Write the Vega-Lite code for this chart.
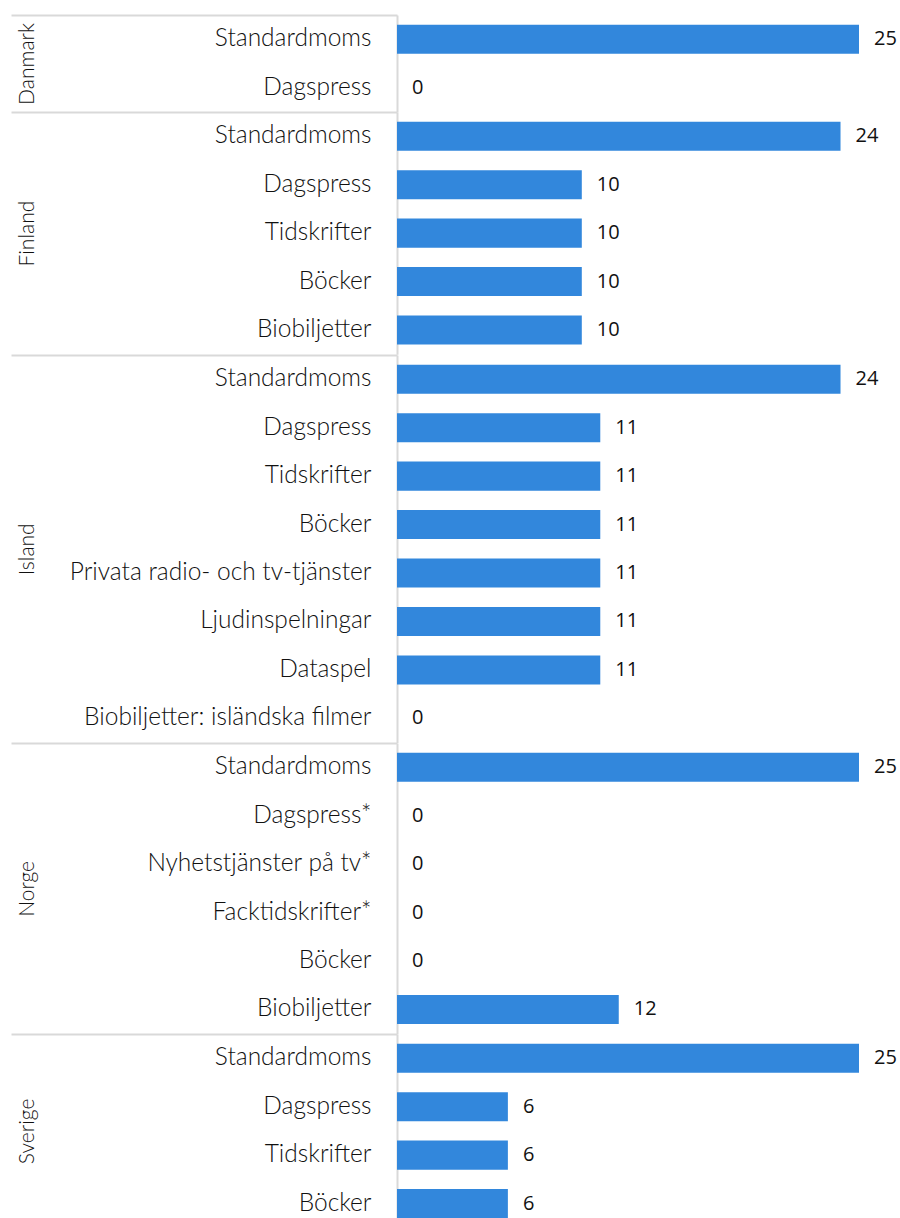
{
  "$schema": "https://vega.github.io/schema/vega-lite/v6.json",
  "padding": {"left": 10, "top": 14, "right": 0, "bottom": 0},
  "datasets": {
    "moms": [
      {"land": "Danmark", "kategori": "Standardmoms", "moms": 25},
      {"land": "Danmark", "kategori": "Dagspress", "moms": 0},
      {"land": "Finland", "kategori": "Standardmoms", "moms": 24},
      {"land": "Finland", "kategori": "Dagspress", "moms": 10},
      {"land": "Finland", "kategori": "Tidskrifter", "moms": 10},
      {"land": "Finland", "kategori": "Böcker", "moms": 10},
      {"land": "Finland", "kategori": "Biobiljetter", "moms": 10},
      {"land": "Island", "kategori": "Standardmoms", "moms": 24},
      {"land": "Island", "kategori": "Dagspress", "moms": 11},
      {"land": "Island", "kategori": "Tidskrifter", "moms": 11},
      {"land": "Island", "kategori": "Böcker", "moms": 11},
      {"land": "Island", "kategori": "Privata radio- och tv-tjänster", "moms": 11},
      {"land": "Island", "kategori": "Ljudinspelningar", "moms": 11},
      {"land": "Island", "kategori": "Dataspel", "moms": 11},
      {"land": "Island", "kategori": "Biobiljetter: isländska filmer", "moms": 0},
      {"land": "Norge", "kategori": "Standardmoms", "moms": 25},
      {"land": "Norge", "kategori": "Dagspress*", "moms": 0},
      {"land": "Norge", "kategori": "Nyhetstjänster på tv*", "moms": 0},
      {"land": "Norge", "kategori": "Facktidskrifter*", "moms": 0},
      {"land": "Norge", "kategori": "Böcker", "moms": 0},
      {"land": "Norge", "kategori": "Biobiljetter", "moms": 12},
      {"land": "Sverige", "kategori": "Standardmoms", "moms": 25},
      {"land": "Sverige", "kategori": "Dagspress", "moms": 6},
      {"land": "Sverige", "kategori": "Tidskrifter", "moms": 6},
      {"land": "Sverige", "kategori": "Böcker", "moms": 6}
    ]
  },
  "data": {"name": "moms"},
  "spacing": 0,
  "bounds": "flush",
  "config": {
    "view": {"stroke": null},
    "concat": {"spacing": 0},
    "axisY": {
      "domainColor": "#d9d9d9",
      "domainWidth": 2,
      "tickSize": 386,
      "tickColor": "#d9d9d9",
      "tickWidth": 2,
      "bandPosition": 0,
      "labelPadding": -360,
      "labelFont": "Lato",
      "labelFontWeight": 300,
      "labelFontSize": 24.5,
      "labelColor": "#111111",
      "labelLimit": 0,
      "titleFont": "Lato",
      "titleFontSize": 21,
      "titleFontWeight": 300,
      "titleColor": "#111111",
      "titleX": -370,
      "titleBaseline": "middle",
      "titleLimit": 0
    }
  },
  "vconcat": [
    {
      "transform": [{"filter": "datum.land === 'Danmark'"}],
      "width": 462,
      "height": {"step": 48.45},
      "encoding": {
        "y": {"field": "kategori", "type": "nominal", "sort": null, "scale": {"paddingInner": 0, "paddingOuter": 0},
          "axis": {"title": "Danmark", "tickOpacity": {"condition": {"test": "datum.value === 'Standardmoms'", "value": 1}, "value": 0}}},
        "x": {"field": "moms", "type": "quantitative", "scale": {"domain": [0, 25]}, "axis": null}
      },
      "layer": [
        {"mark": {"type": "bar", "height": {"band": 0.6}, "color": "#3287dc"}},
        {"mark": {"type": "text", "align": "left", "dx": 15, "font": "Open Sans", "fontSize": 20, "color": "#111111"}, "encoding": {"text": {"field": "moms", "type": "quantitative"}}}
      ]
    },
    {
      "transform": [{"filter": "datum.land === 'Finland'"}],
      "width": 462,
      "height": {"step": 48.45},
      "encoding": {
        "y": {"field": "kategori", "type": "nominal", "sort": null, "scale": {"paddingInner": 0, "paddingOuter": 0},
          "axis": {"title": "Finland", "tickOpacity": {"condition": {"test": "datum.value === 'Standardmoms'", "value": 1}, "value": 0}}},
        "x": {"field": "moms", "type": "quantitative", "scale": {"domain": [0, 25]}, "axis": null}
      },
      "layer": [
        {"mark": {"type": "bar", "height": {"band": 0.6}, "color": "#3287dc"}},
        {"mark": {"type": "text", "align": "left", "dx": 15, "font": "Open Sans", "fontSize": 20, "color": "#111111"}, "encoding": {"text": {"field": "moms", "type": "quantitative"}}}
      ]
    },
    {
      "transform": [{"filter": "datum.land === 'Island'"}],
      "width": 462,
      "height": {"step": 48.45},
      "encoding": {
        "y": {"field": "kategori", "type": "nominal", "sort": null, "scale": {"paddingInner": 0, "paddingOuter": 0},
          "axis": {"title": "Island", "tickOpacity": {"condition": {"test": "datum.value === 'Standardmoms'", "value": 1}, "value": 0}}},
        "x": {"field": "moms", "type": "quantitative", "scale": {"domain": [0, 25]}, "axis": null}
      },
      "layer": [
        {"mark": {"type": "bar", "height": {"band": 0.6}, "color": "#3287dc"}},
        {"mark": {"type": "text", "align": "left", "dx": 15, "font": "Open Sans", "fontSize": 20, "color": "#111111"}, "encoding": {"text": {"field": "moms", "type": "quantitative"}}}
      ]
    },
    {
      "transform": [{"filter": "datum.land === 'Norge'"}],
      "width": 462,
      "height": {"step": 48.45},
      "encoding": {
        "y": {"field": "kategori", "type": "nominal", "sort": null, "scale": {"paddingInner": 0, "paddingOuter": 0},
          "axis": {"title": "Norge", "tickOpacity": {"condition": {"test": "datum.value === 'Standardmoms'", "value": 1}, "value": 0}}},
        "x": {"field": "moms", "type": "quantitative", "scale": {"domain": [0, 25]}, "axis": null}
      },
      "layer": [
        {"mark": {"type": "bar", "height": {"band": 0.6}, "color": "#3287dc"}},
        {"mark": {"type": "text", "align": "left", "dx": 15, "font": "Open Sans", "fontSize": 20, "color": "#111111"}, "encoding": {"text": {"field": "moms", "type": "quantitative"}}}
      ]
    },
    {
      "transform": [{"filter": "datum.land === 'Sverige'"}],
      "width": 462,
      "height": {"step": 48.45},
      "encoding": {
        "y": {"field": "kategori", "type": "nominal", "sort": null, "scale": {"paddingInner": 0, "paddingOuter": 0},
          "axis": {"title": "Sverige", "tickOpacity": {"condition": {"test": "datum.value === 'Standardmoms'", "value": 1}, "value": 0}}},
        "x": {"field": "moms", "type": "quantitative", "scale": {"domain": [0, 25]}, "axis": null}
      },
      "layer": [
        {"mark": {"type": "bar", "height": {"band": 0.6}, "color": "#3287dc"}},
        {"mark": {"type": "text", "align": "left", "dx": 15, "font": "Open Sans", "fontSize": 20, "color": "#111111"}, "encoding": {"text": {"field": "moms", "type": "quantitative"}}}
      ]
    }
  ]
}
